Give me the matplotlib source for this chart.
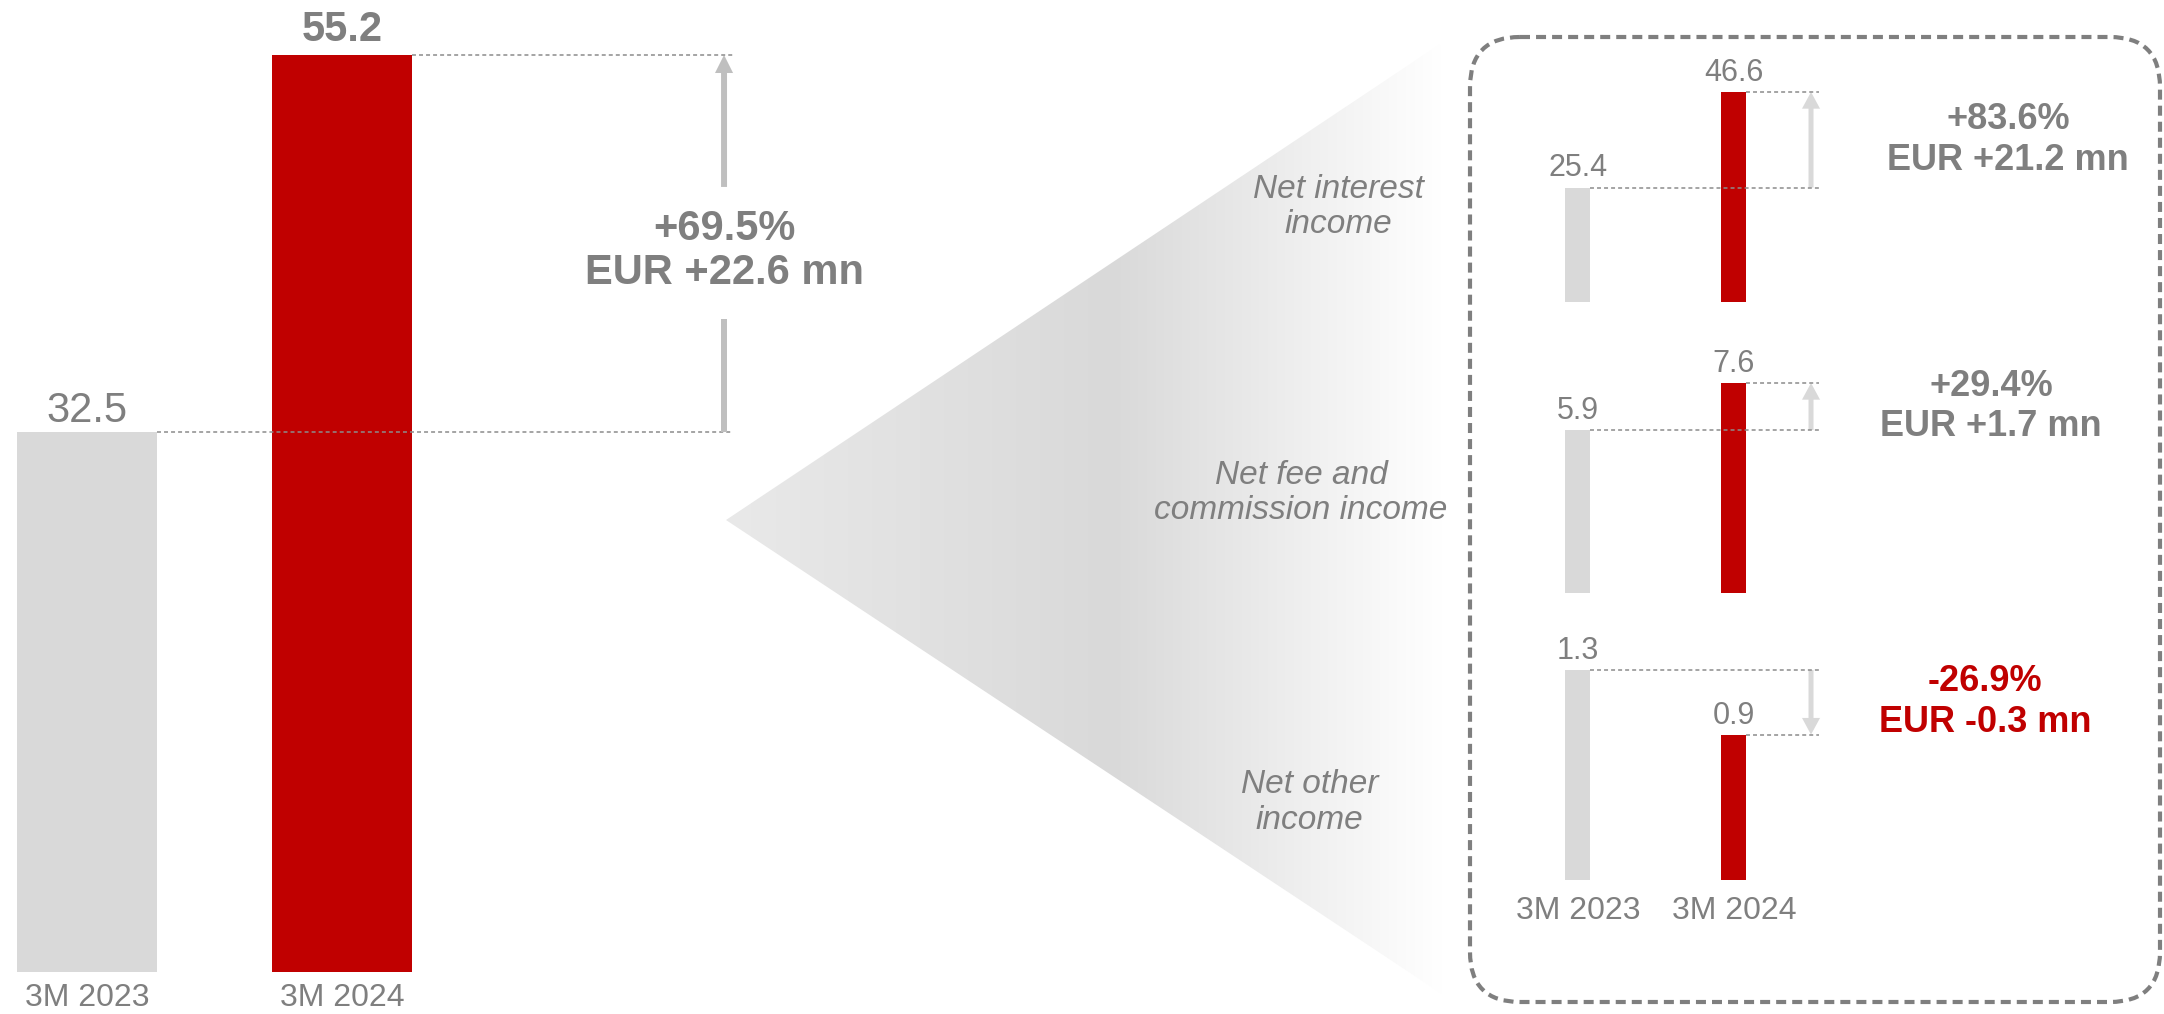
import numpy as np
import matplotlib.pyplot as plt
from matplotlib.patches import Polygon, FancyBboxPatch, FancyArrowPatch, ArrowStyle
from matplotlib.colors import LinearSegmentedColormap

plt.rcParams['font.family'] = ['Liberation Sans', 'DejaVu Sans']

# Datos
periods = ['3M 2023', '3M 2024']
total = [32.5, 55.2]
total_pct = '+69.5%'
total_abs = 'EUR +22.6 mn'

segments = ['Net interest\nincome', 'Net fee and\ncommission income', 'Net other\nincome']
seg_2023 = [25.4, 5.9, 1.3]
seg_2024 = [46.6, 7.6, 0.9]
seg_pct = ['+83.6%', '+29.4%', '-26.9%']
seg_abs = ['EUR +21.2 mn', 'EUR +1.7 mn', 'EUR -0.3 mn']

RED = '#c00000'
LIGHT = '#d9d9d9'
GREY = '#7f7f7f'

W, H = 2164, 1014
fig = plt.figure(figsize=(W / 100, H / 100), dpi=100)


def px_axes(x0, y0, x1, y1):
    # ejes colocados en pixeles (origen arriba a la izquierda)
    a = fig.add_axes([x0 / W, 1 - y1 / H, (x1 - x0) / W, (y1 - y0) / H])
    a.set_facecolor('none')
    for s in a.spines.values():
        s.set_visible(False)
    a.set_yticks([])
    return a


# fondo: abanico con degradado y caja punteada
bg = px_axes(0, 0, W, H)
bg.axis('off')
cmap = LinearSegmentedColormap.from_list('fan', [(0, '#e9e9e9'), (0.54, '#d9d9d9'), (1, '#ffffff')])
tri = Polygon([(726, 520), (1440, 44), (1442, 994)], closed=True, fc='none', ec='none')
bg.add_patch(tri)
im = bg.imshow(np.linspace(0, 1, 256).reshape(1, -1), cmap=cmap, extent=[726, 1442, 994, 44],
               aspect='auto', interpolation='bicubic')
im.set_clip_path(tri)
bg.add_patch(FancyBboxPatch((1470, 37), 690, 965, boxstyle='round,pad=0,rounding_size=50',
                            fc='none', ec=GREY, lw=3, ls=(0, (2.4, 1.45))))
bg.set_xlim(0, W)
bg.set_ylim(H, 0)

# grafico principal
x = np.arange(2)
ax = px_axes(0, 40, 760, 972)
ax.set_xlim(-0.341, 2.639)
ax.set_ylim(0, 56.1)
bw = 0.55
ax.bar(x, total, width=bw, color=[LIGHT, RED])
ax.set_xticks(x, periods)
ax.tick_params(axis='x', length=0, pad=8, labelsize=23, labelcolor=GREY)
for xi, v, w, off in zip(x, total, ['normal', 'bold'], [7.5, 10]):
    ax.annotate(f'{v:.1f}', (xi, v), xytext=(0, off), textcoords='offset points',
                ha='center', va='baseline', fontsize=30, fontweight=w, color=GREY)

x_arr = 2.498
x_end = 2.533
for xi, v in zip(x, total):
    ax.hlines(v, xi + bw / 2, x_end, color='#8c8c8c', lw=1.1, ls=(0, (2.6, 2.0)), clip_on=False)
d = total[1] - total[0]
ax.plot([x_arr, x_arr], [total[0], total[0] + 0.30 * d], color='#bfbfbf', lw=4.3,
        solid_capstyle='butt', clip_on=False)
ax.add_patch(FancyArrowPatch((x_arr, total[0] + 0.65 * d), (x_arr, total[1]),
                             arrowstyle=ArrowStyle.Simple(head_length=13, head_width=13, tail_width=4.3),
                             mutation_scale=1, shrinkA=0, shrinkB=0, color='#bfbfbf', lw=0, clip_on=False))
ax.text(x_arr, total[0] + 0.48 * d, f'{total_pct}\n{total_abs}', ha='center', va='center',
        fontsize=30, fontweight='bold', color=GREY, linespacing=1.15)

# desglose por componente
bottoms = [302, 593, 880]
txt_x = [2.756, 2.647, 2.609]
lab_pos = [(-0.212, 0.38), (-0.267, 0.40), (-0.254, 0.31)]
sw = 0.16
for i in range(3):
    b = bottoms[i]
    pa = px_axes(1480, b - 250, 2150, b)
    vals = [seg_2023[i], seg_2024[i]]
    pa.set_xlim(-0.628, 3.667)
    pa.set_ylim(0, max(vals) * 250 / 210)
    pa.bar(x, vals, width=sw, color=[LIGHT, RED])
    if i == 2:
        pa.set_xticks(x, periods)
        pa.tick_params(axis='x', length=0, pad=11.5, labelsize=23, labelcolor=GREY)
    else:
        pa.set_xticks([])
    for xi, v in zip(x, vals):
        pa.annotate(f'{v:.1f}', (xi, v), xytext=(0, 8), textcoords='offset points',
                    ha='center', va='baseline', fontsize=22, color=GREY)
        pa.hlines(v, xi + sw / 2, 1.545, color='#8c8c8c', lw=1.1, ls=(0, (2.6, 2.0)), clip_on=False)
    pa.add_patch(FancyArrowPatch((1.494, vals[0]), (1.494, vals[1]),
                                 arrowstyle=ArrowStyle.Simple(head_length=12, head_width=13, tail_width=3.6),
                                 mutation_scale=1, shrinkA=0, shrinkB=0, color=LIGHT, lw=0, clip_on=False))
    col = RED if seg_pct[i].startswith('-') else GREY
    pa.text(txt_x[i], (vals[0] + vals[1]) / 2, f'{seg_pct[i]}\n{seg_abs[i]}', ha='center', va='center',
            fontsize=26, fontweight='bold', color=col, linespacing=1.22)
    pa.text(lab_pos[i][0], lab_pos[i][1], segments[i], transform=pa.transAxes, ha='center', va='center',
            fontsize=24, style='italic', color=GREY, linespacing=1.2)

fig.savefig('out.png', dpi=100)
